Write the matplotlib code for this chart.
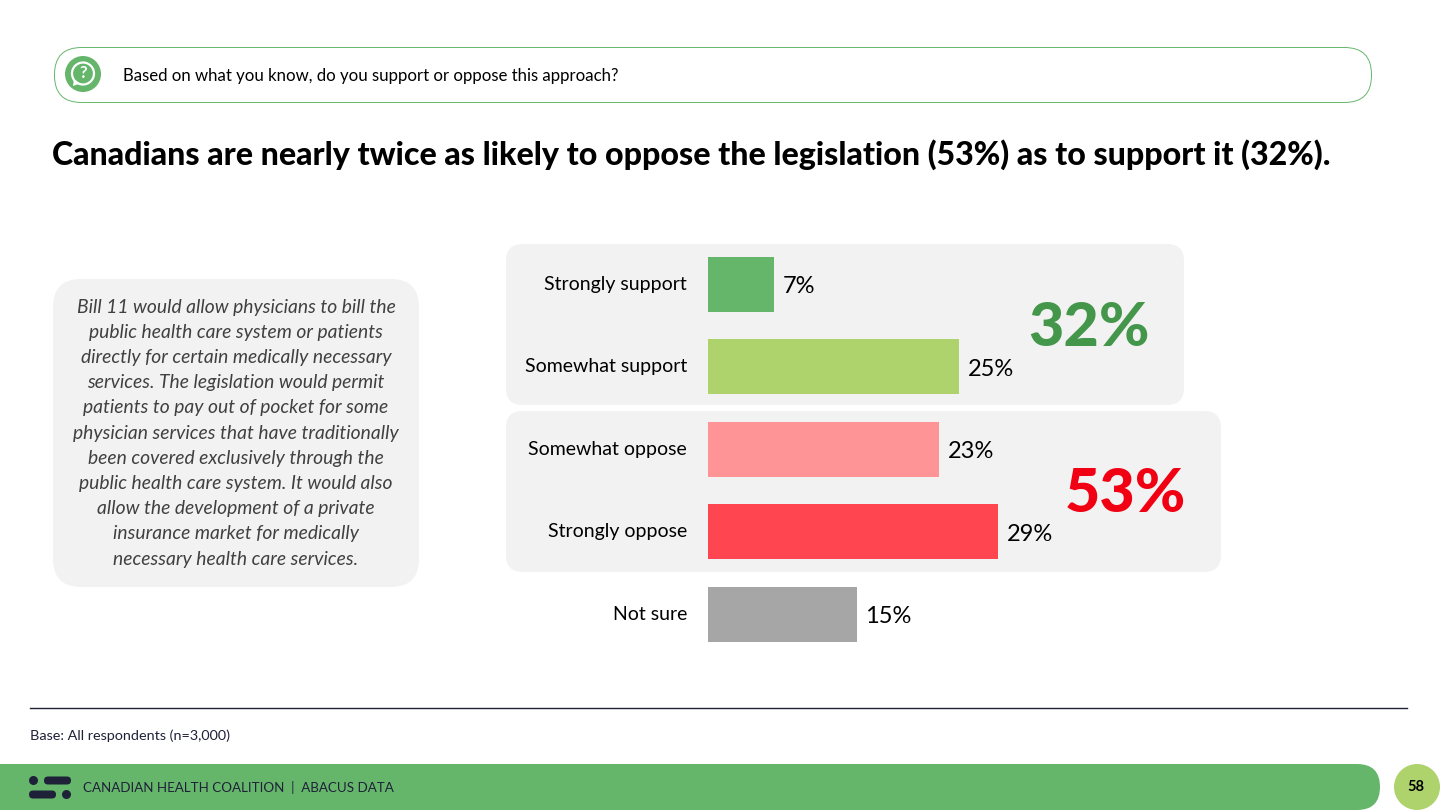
import matplotlib
matplotlib.use('Agg')
import matplotlib.pyplot as plt
from matplotlib.patches import FancyBboxPatch, Circle, Polygon

plt.rcParams['font.family'] = ['Lato', 'DejaVu Sans']

# Data
categories = ['Strongly support', 'Somewhat support', 'Somewhat oppose', 'Strongly oppose', 'Not sure']
values = [6.6, 25.1, 23.1, 29.0, 14.9]
value_labels = ['7%', '25%', '23%', '29%', '15%']
bar_colors = ['#65B66B', '#AED36C', '#FF9496', '#FF4650', '#A6A6A6']

question = 'Based on what you know, do you support or oppose this approach?'
title = 'Canadians are nearly twice as likely to oppose the legislation (53%) as to support it (32%).'
bill_lines = [
    'Bill 11 would allow physicians to bill the',
    'public health care system or patients',
    'directly for certain medically necessary',
    'services. The legislation would permit',
    'patients to pay out of pocket for some',
    'physician services that have traditionally',
    'been covered exclusively through the',
    'public health care system. It would also',
    'allow the development of a private',
    'insurance market for medically',
    'necessary health care services.',
]
base_note = 'Base: All respondents (n=3,000)'
footer = 'CANADIAN HEALTH COALITION  |  ABACUS DATA'
page = '58'

GREEN = '#65B66B'
DARK = '#1F2138'

fig = plt.figure(figsize=(14.4, 8.1), dpi=100)

# Background axes in pixel coordinates
bg = fig.add_axes([0, 0, 1, 1])
bg.set_xlim(0, 1440)
bg.set_ylim(810, 0)
bg.axis('off')


def rbox(x0, y0, x1, y1, r, **kw):
    p = FancyBboxPatch((x0 + r, y0 + r), x1 - x0 - 2 * r, y1 - y0 - 2 * r,
                       boxstyle='round,pad=%f,rounding_size=%f' % (r, r), **kw)
    bg.add_patch(p)


# Question pill
rbox(54.5, 47.5, 1371.5, 102.5, 27, fc='white', ec=GREEN, lw=0.7)
bg.add_patch(Circle((83, 74), 18, fc=GREEN, ec='none'))
bg.add_patch(Circle((83, 73.5), 11, fc='none', ec='white', lw=1.6))
bg.add_patch(Polygon([(74, 79), (73, 86), (80, 83.5)], fc='white', ec='none'))
bg.text(83, 73.5, '?', color='white', fontsize=12, fontweight='bold', ha='center', va='center')
bg.text(123, 76, question, fontsize=12.1, color='black', va='center')

# Title
bg.text(52, 154.5, title, fontsize=23.15, fontweight=900, color='black', va='center')

# Left text box
rbox(53, 279, 419, 587, 28, fc='#F2F2F2', ec='none')
for i, line in enumerate(bill_lines):
    bg.text(236, 307 + i * 25.2, line, fontsize=13.85, style='italic', color='#404040',
            ha='center', va='center')

# Group panels behind the bars
rbox(506, 244, 1184, 405, 17, fc='#F2F2F2', ec='none')
rbox(506, 411, 1221, 572, 17, fc='#F2F2F2', ec='none')

# Bar chart
ax = fig.add_axes([708 / 1440, 1 - 655.3 / 810, 500 / 1440, 412 / 810])
ax.patch.set_alpha(0)
ax.barh(range(len(values)), values, height=0.667, color=bar_colors)
ax.set_xlim(0, 50)
ax.set_ylim(4.5, -0.5)
ax.set_xticks([])
ax.set_yticks(range(len(categories)))
ax.set_yticklabels(categories, fontsize=14.05, color='black', va='center')
ax.tick_params(axis='y', length=0, pad=15)
for s in ax.spines.values():
    s.set_visible(False)
for i, v in enumerate(values):
    ax.text(v + 0.85, i + 0.03, value_labels[i], fontsize=17, color='black', va='center')

# Net totals
bg.text(1089, 328, '32%', fontsize=44, fontweight=900, color='#43964A', ha='center', va='center')
bg.text(1125, 494, '53%', fontsize=44, fontweight=900, color='#F00012', ha='center', va='center')

# Base note
bg.plot([30, 1407], [708, 708], color=DARK, lw=1)
bg.text(30, 736, base_note, fontsize=10.4, color=DARK, va='center')

# Footer
rbox(-40, 764, 1380, 810, 23, fc=GREEN, ec='none')
bg.add_patch(Circle((33.5, 780.5), 4.5, fc=DARK, ec='none'))
rbox(44, 776.5, 71, 784.5, 4, fc=DARK, ec='none')
rbox(29, 790.5, 56, 798.5, 4, fc=DARK, ec='none')
bg.add_patch(Circle((66.5, 794.5), 4.5, fc=DARK, ec='none'))
bg.text(83, 787.5, footer, fontsize=9.6, color=DARK, va='center')
bg.add_patch(Circle((1417, 787), 23, fc='#AED36C', ec='none'))
bg.text(1416, 787, page, fontsize=10.5, fontweight='bold', color='black', ha='center', va='center')

fig.savefig('out.png', dpi=100)
